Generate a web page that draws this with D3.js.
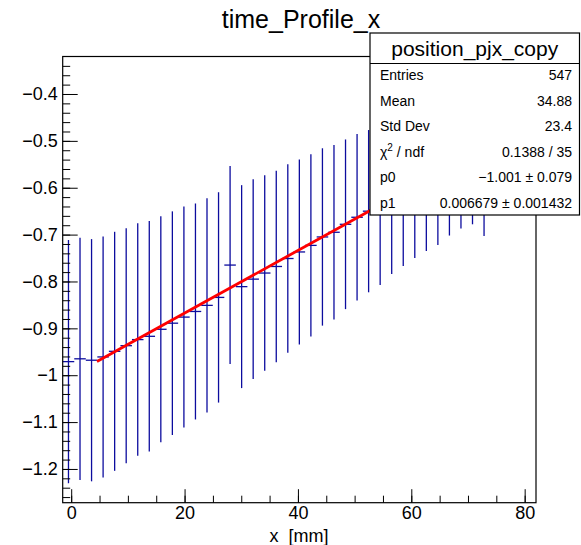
<!DOCTYPE html>
<html>
<head>
<meta charset="utf-8">
<script src="https://cdn.jsdelivr.net/npm/d3@7"></script>
<style>
	body { margin: 0; background: #fff; }
	svg { display: block; font-family: "Liberation Sans", Arial, Helvetica, sans-serif; }
</style>
</head>
<body>
<svg id="chart" width="581" height="545"></svg>
<script>
// Profile histogram: 41 bins over [-1.5, 82], only the first 37 are filled.
const X_RANGE = [-1.5, 82];
const N_BINS = 41;
// bin mean (marker) and spread (error bar half-length)
const binMeans = [
	-0.971, -0.965, -0.968, -0.961, -0.949, -0.937, -0.924, -0.917, -0.902, -0.889,
	-0.876, -0.864, -0.851, -0.834, -0.765, -0.811, -0.795, -0.782, -0.768, -0.751,
	-0.737, -0.723, -0.705, -0.695, -0.678, -0.663, -0.650, -0.636, -0.622, -0.607,
	-0.593, -0.579, -0.565, -0.551, -0.538, -0.524, -0.509
];
const binSpreads = [
	0.2595, 0.2585, 0.2584, 0.2570, 0.2550, 0.2507, 0.2480, 0.2460, 0.2410, 0.2386,
	0.2357, 0.2304, 0.2283, 0.2244, 0.2112, 0.2165, 0.2130, 0.2087, 0.2044, 0.2013,
	0.1973, 0.1946, 0.1892, 0.1861, 0.1810, 0.1775, 0.1731, 0.1717, 0.1620, 0.1600,
	0.1570, 0.1560, 0.1570, 0.1510, 0.1490, 0.1540, 0.1940
];
// pol1 fit
const fitParams = [-1.001, 0.006679];
const fitRange = [4.55, 80];

const xTicks = [0, 20, 40, 60, 80];
const xMinorTicks = d3.range(0, 81, 5);
const yTicks = [-1.2, -1.1, -1, -0.9, -0.8, -0.7, -0.6, -0.5, -0.4];
const yMinorTicks = d3.range(-1.26, -0.32, 0.02);

const statsTitle = "position_pjx_copy";
const statsRows = [
	["Entries", "547"],
	["Mean", "34.88"],
	["Std Dev", "23.4"],
	["chi2", "0.1388 / 35"],
	["p0", "\u22121.001 \u00b1 0.079"],
	["p1", "0.006679 \u00b1 0.001432"]
];

const COLORS = {
	bar: "#0c0c9e",
	fit: "#ff0000",
	axis: "#000000"
};

const svg = d3.select("#chart");
const frame = { left: 62.7, right: 536, top: 56.5, bottom: 502.7 };

const x = d3.scaleLinear().domain(X_RANGE).range([frame.left, frame.right]);
const y = d3.scaleLinear().domain([-1.272, -0.32]).range([frame.bottom, frame.top]);

const binW = (X_RANGE[1] - X_RANGE[0]) / N_BINS;
const bins = binMeans.map((m, i) => ({
	lo: X_RANGE[0] + i * binW,
	hi: X_RANGE[0] + (i + 1) * binW,
	c: X_RANGE[0] + (i + 0.5) * binW,
	mean: m,
	spread: binSpreads[i]
}));

// title
svg.append("text")
	.attr("x", 301).attr("y", 28)
	.attr("text-anchor", "middle")
	.attr("font-size", 25)
	.text("time_Profile_x");

// data
const gData = svg.append("g");
gData.selectAll("line.err")
	.data(bins).join("line")
	.attr("class", "err")
	.attr("x1", d => x(d.c)).attr("x2", d => x(d.c))
	.attr("y1", d => y(d.mean + d.spread)).attr("y2", d => y(d.mean - d.spread))
	.attr("stroke", COLORS.bar).attr("stroke-width", 1.3);
gData.selectAll("line.bin")
	.data(bins).join("line")
	.attr("class", "bin")
	.attr("x1", d => x(d.lo)).attr("x2", d => x(d.hi))
	.attr("y1", d => y(d.mean)).attr("y2", d => y(d.mean))
	.attr("stroke", COLORS.bar).attr("stroke-width", 1.3);

// fit line
const fitLine = d3.line().x(d => x(d)).y(d => y(fitParams[0] + fitParams[1] * d));
svg.append("path")
	.attr("d", fitLine(fitRange))
	.attr("fill", "none")
	.attr("stroke", COLORS.fit)
	.attr("stroke-width", 2.8);

// axes (ticks point into the frame)
function styleAxis(g) {
	g.attr("font-family", "inherit").attr("font-size", 18);
	g.select(".domain").remove();
	g.selectAll(".tick line").attr("stroke", COLORS.axis);
	g.selectAll(".tick text").attr("fill", COLORS.axis);
	return g;
}
const fmt = d3.format("~g");

svg.append("g")
	.attr("transform", `translate(${frame.left},0)`)
	.call(d3.axisLeft(y).tickValues(yMinorTicks).tickSize(-7.5).tickFormat(""))
	.call(styleAxis);
svg.append("g")
	.attr("transform", `translate(${frame.left},0)`)
	.call(d3.axisLeft(y).tickValues(yTicks).tickSize(-15).tickPadding(5).tickFormat(fmt))
	.call(styleAxis);

svg.append("g")
	.attr("transform", `translate(0,${frame.bottom})`)
	.call(d3.axisBottom(x).tickValues(xMinorTicks).tickSize(-7).tickFormat(""))
	.call(styleAxis);
svg.append("g")
	.attr("transform", `translate(0,${frame.bottom})`)
	.call(d3.axisBottom(x).tickValues(xTicks).tickSize(-13.5).tickPadding(4).tickFormat(fmt))
	.call(styleAxis);

// frame
svg.append("rect")
	.attr("x", frame.left).attr("y", frame.top)
	.attr("width", frame.right - frame.left).attr("height", frame.bottom - frame.top)
	.attr("fill", "none").attr("stroke", COLORS.axis).attr("stroke-width", 1.2);

// x title
svg.append("text")
	.attr("x", 299).attr("y", 542)
	.attr("text-anchor", "middle")
	.attr("font-size", 18)
	.style("white-space", "pre")
	.text("x  [mm]");

// stats box
const box = { x: 370, y: 33, w: 209.5, h: 182 };
const gs = svg.append("g");
gs.append("rect")
	.attr("x", box.x).attr("y", box.y).attr("width", box.w).attr("height", box.h)
	.attr("fill", "#fff").attr("stroke", "#000").attr("stroke-width", 1.2);
gs.append("line")
	.attr("x1", box.x).attr("x2", box.x + box.w)
	.attr("y1", 63.5).attr("y2", 63.5)
	.attr("stroke", "#000").attr("stroke-width", 1.2);
gs.append("text")
	.attr("x", box.x + box.w / 2).attr("y", 56)
	.attr("text-anchor", "middle")
	.attr("font-size", 21)
	.text(statsTitle);

const rowY = d3.scaleLinear().domain([0, statsRows.length - 1]).range([75, 202.5]);
statsRows.forEach((r, i) => {
	const ty = rowY(i) + 5;
	const lab = gs.append("text").attr("x", 380).attr("y", ty).attr("font-size", 14);
	if (r[0] === "chi2") {
		lab.append("tspan").text("\u03c7");
		lab.append("tspan").attr("font-size", 10).attr("dy", -6).text("2");
		lab.append("tspan").attr("dy", 6).text(" / ndf");
	} else {
		lab.text(r[0]);
	}
	gs.append("text")
		.attr("x", 572).attr("y", ty)
		.attr("text-anchor", "end")
		.attr("font-size", 14)
		.text(r[1]);
});
</script>
</body>
</html>
